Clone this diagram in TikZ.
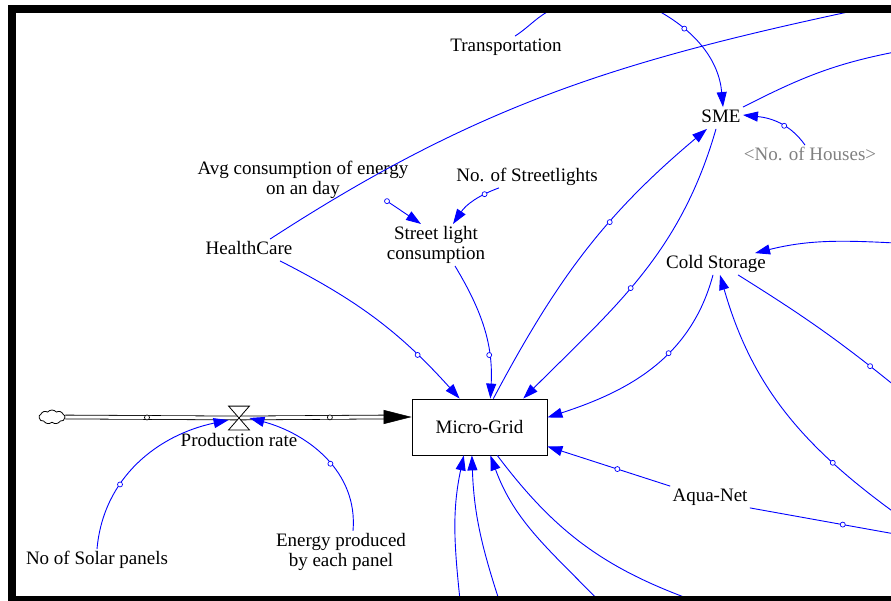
\documentclass[tikz,border=0pt]{standalone}
\usepackage{fontspec}
\setmainfont{Liberation Serif}
\usetikzlibrary{positioning}
\usetikzlibrary{arrows.meta}
\usetikzlibrary{shapes.symbols}

\begin{document}
\begin{tikzpicture}[x=1pt, y=1pt, line width=0.8pt,
        var/.style={font=\fontsize{19}{20}\selectfont, inner sep=2pt, text height=13pt, text depth=4pt},
        var2/.style={font=\fontsize{19}{20}\selectfont, inner sep=2pt, align=center},
        stock/.style={draw, font=\fontsize{19}{20}\selectfont, minimum width=135pt, minimum height=56pt},
        valve/.style={minimum width=20pt, minimum height=23pt, inner sep=0pt},
        link/.style={draw=blue, line width=0.9pt, -{Triangle[length=15pt,width=10pt]}},
        plain/.style={draw=blue, line width=0.9pt},
        hnd/.style={circle, draw=blue, fill=white, inner sep=0pt, minimum size=5pt, line width=0.7pt},
        phnd/.style={circle, draw=black, fill=white, inner sep=0pt, minimum size=5pt, line width=0.7pt},
        pipe/.style={double, double distance=3pt, line width=0.8pt}]
    \path[use as bounding box, clip] (0,0) rectangle (891,-601);

    \node[var] (trans) at (506,-47) {Transportation};
    \node[var] (sme) at (721,-118) {SME};
    \node[var, text=gray] (houses) at (810,-156) {\textless No. of Houses\textgreater};
    \node[var2] (avg) at (303,-180) {Avg consumption of energy\\on an day};
    \node[var] (nstreet) at (527,-177) {No. of Streetlights};
    \node[var2] (slc) at (436,-245) {Street light\\consumption};
    \node[var] (hc) at (249,-250) {HealthCare};
    \node[var] (cs) at (716,-264) {Cold Storage};
    \node[stock] (mg) at (479.5,-427) {Micro-Grid};
    \node[var] (aqua) at (710,-497) {Aqua-Net};
    \node[var] (solar) at (97,-560) {No of Solar panels};
    \node[var2] (epp) at (341,-552) {Energy produced\\by each panel};
    \node[valve] (valve) at (239,-418) {};
    \node[var, below=1pt of valve] (prod) {Production rate};
    \node[cloud, draw, cloud puffs=9, cloud puff arc=100, aspect=1.9, minimum width=26pt, minimum height=14pt, inner sep=0pt] (src) at (52,-417) {};

    % ends that run out of the frame
    \coordinate (topA) at (862,-9);
    \coordinate (topB) at (553,-9);
    \coordinate (topC) at (655,-9);
    \coordinate (rightA) at (895,-52);
    \coordinate (rightB) at (895,-243);
    \coordinate (rightC) at (895,-386);
    \coordinate (rightD) at (895,-513);
    \coordinate (rightE) at (895,-534);
    \coordinate (botA) at (460,-600);
    \coordinate (botB) at (499,-600);
    \coordinate (botC) at (598,-600);
    \coordinate (botD) at (692,-600);
    \coordinate (inlet) at (src -| mg.west);

    % flow into the stock
    \draw[pipe] (src.east) -- node[phnd, pos=0.47]{} (valve.center) -- node[phnd, pos=0.62]{} ([xshift=-26pt]inlet);
    \draw[-{Triangle[length=28pt,width=14pt]}, line width=0.5pt] ([xshift=-28pt]inlet) -- (inlet);
    \filldraw[fill=white] (valve.north west) -- (valve.north east) -- (valve.south west) -- (valve.south east) -- cycle;

    \path (solar.north) edge[link, out=85, in=192] node[hnd, pos=0.35]{} ([yshift=-2pt]valve.west);
    \path ([xshift=12pt]epp.north) edge[link, out=85, in=-15] node[hnd, pos=0.45]{} (valve.east);

    % into the micro-grid
    \path ([xshift=31pt]hc.south) edge[link, out=-27, in=132] node[hnd, pos=0.75]{} (mg.125);
    \path ([xshift=19pt]slc.south) edge[link, out=-59, in=87] node[hnd, pos=0.7]{} (mg.69);
    \path ([xshift=-5pt]sme.south) edge[link, out=-106, in=45] node[hnd, pos=0.55]{} (mg.33);
    \path ([xshift=-3pt]cs.south) edge[link, out=-105, in=18] node[hnd, pos=0.4]{} (mg.8);
    \path (aqua.north west) edge[link] node[hnd, pos=0.43]{} (mg.-16);
    \path (botA) edge[link, out=96, in=-102] (mg.-119);
    \path (botB) edge[link, out=108, in=-88] (mg.-105);
    \path (botC) edge[link, out=134, in=-70] (mg.-69);
    \path (mg.-58) edge[plain, out=-53, in=160] (botD);

    % SME
    \path (mg.64) edge[link, out=62, in=220] node[hnd, pos=0.62]{} ([xshift=-14pt]sme.south);
    \path (topC) edge[link, out=-28, in=95] node[hnd, pos=0.27]{} ([xshift=2pt]sme.north);
    \path ([xshift=-5pt]houses.north) edge[link, out=125, in=-6] node[hnd, pos=0.4]{} ([yshift=3pt]sme.east);
    \path (sme.north east) edge[plain, out=27, in=191] (rightA);

    % street lights
    \path ([xshift=84pt]avg.south) edge[link] node[hnd, pos=0]{} ([xshift=-15pt]slc.north);
    \path ([xshift=-28pt]nstreet.south) edge[link, out=200, in=56] node[hnd, pos=0.25]{} ([xshift=17pt]slc.north);

    % cold storage
    \path (rightB) edge[link, out=177, in=14] ([xshift=39pt]cs.north);
    \path (rightD) edge[link, out=144, in=-74] node[hnd, pos=0.25]{} ([xshift=4pt]cs.south);
    \path ([xshift=22pt]cs.south) edge[plain, out=-32, in=141] node[hnd, pos=0.85]{} (rightC);

    \path (aqua.south east) edge[plain] node[hnd, pos=0.64]{} (rightE);
    \path ([xshift=21pt]hc.north) edge[plain, out=33, in=192] (topA);
    \path ([xshift=9pt]trans.north) edge[plain, out=33, in=205] (topB);

    % frame
    \draw[line width=8pt] (11.5,-9) rectangle (905,-600);
\end{tikzpicture}
\end{document}
